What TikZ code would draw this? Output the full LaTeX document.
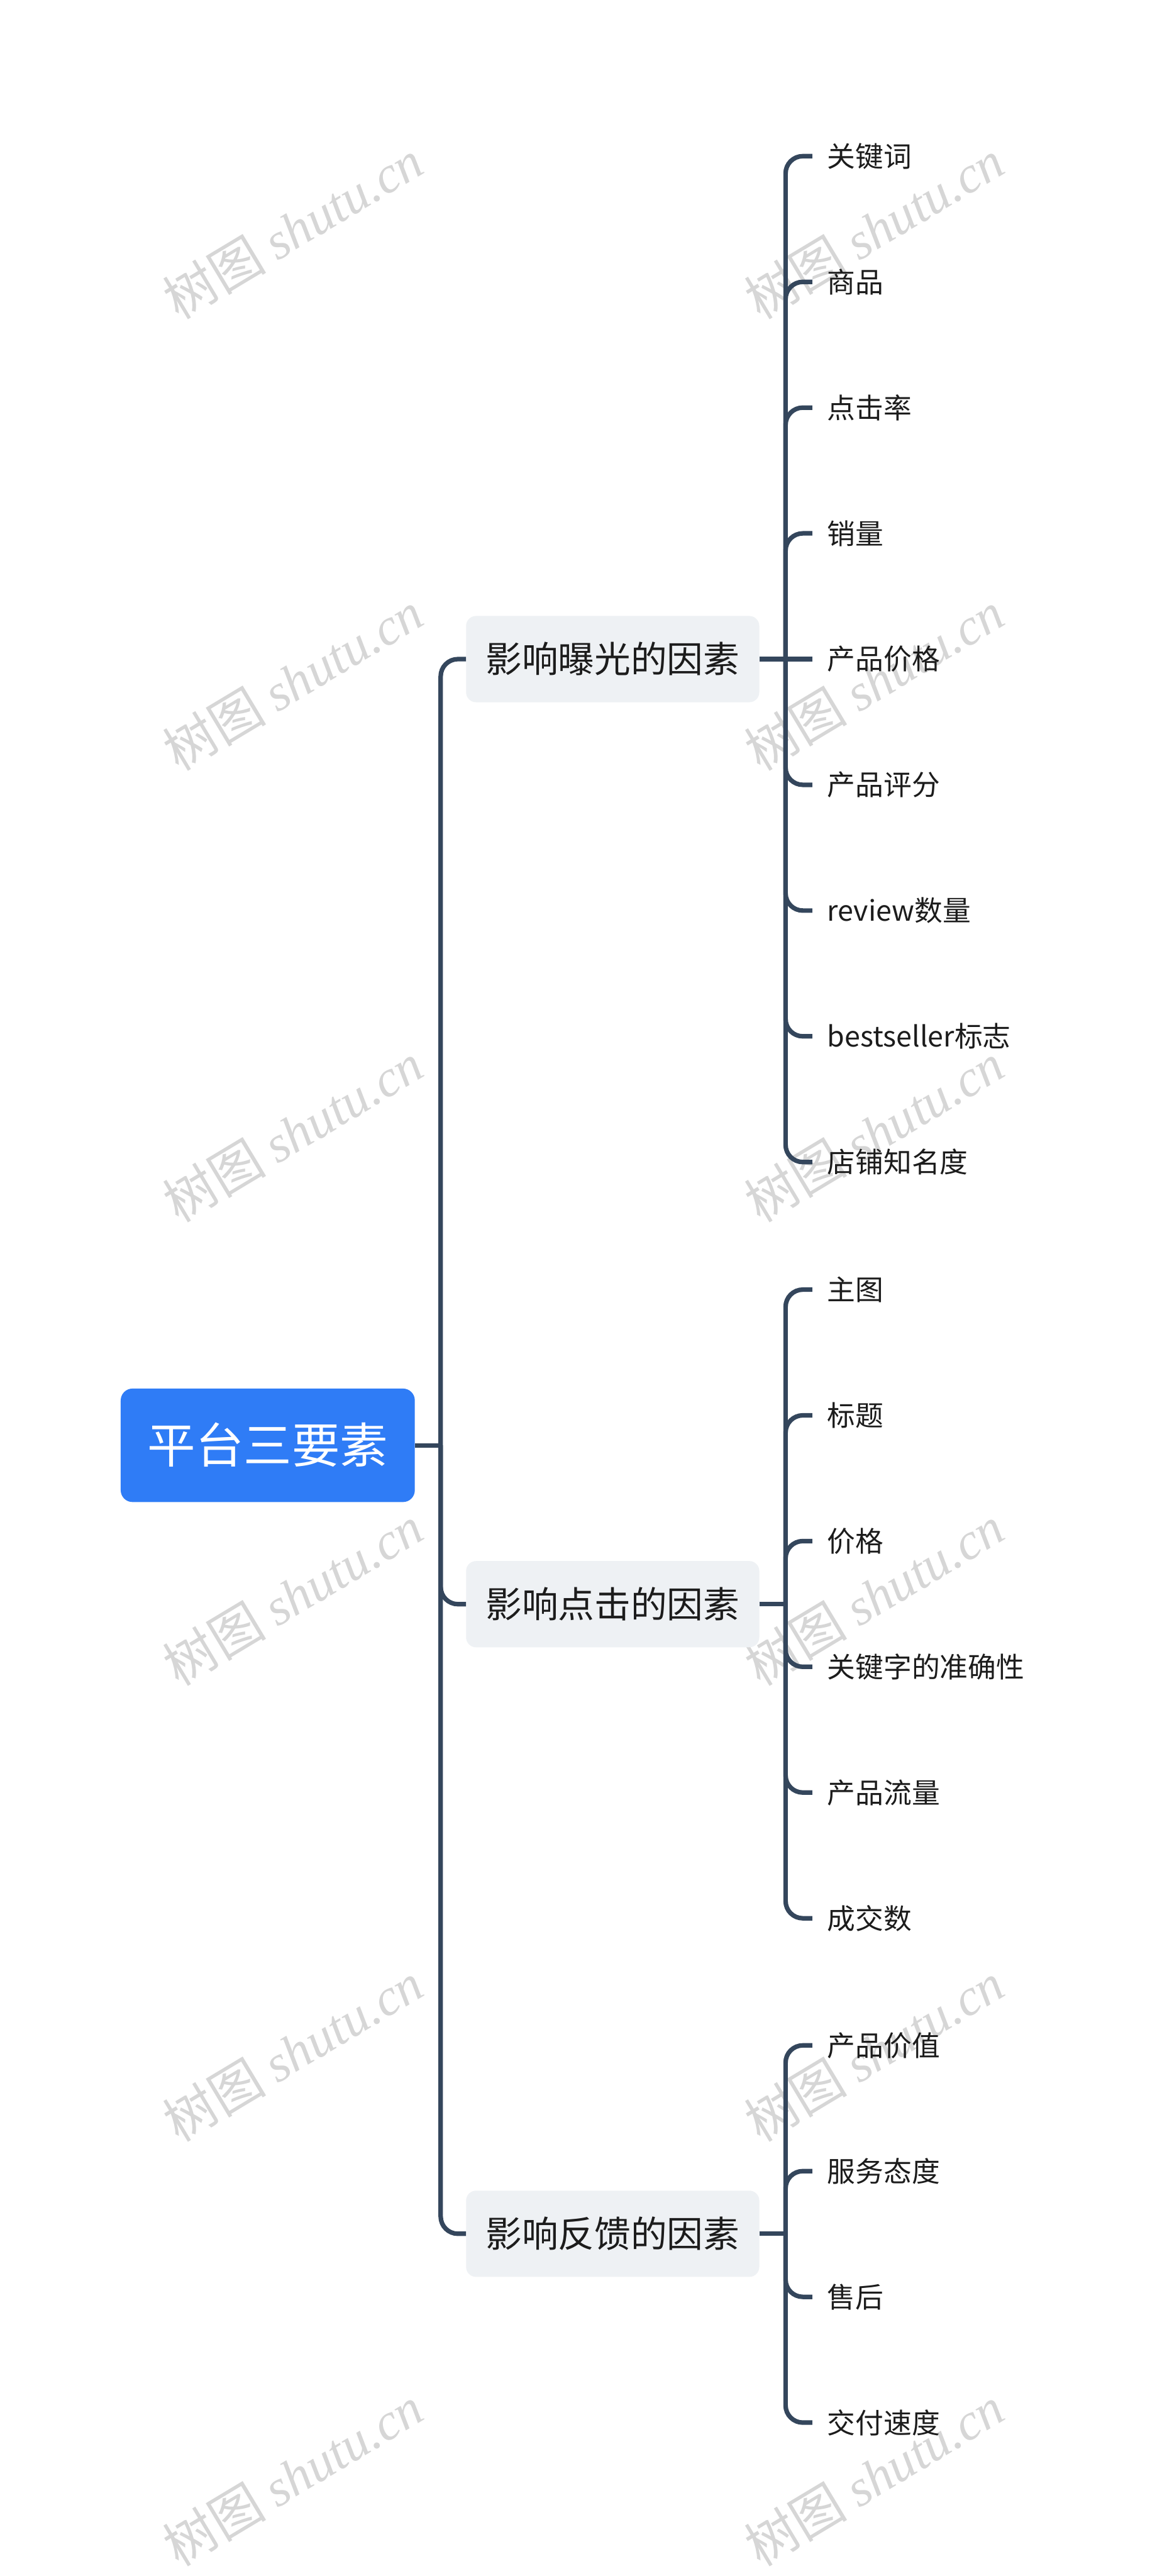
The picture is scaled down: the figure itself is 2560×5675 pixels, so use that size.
\documentclass[tikz,border=0pt]{standalone}
\usepackage{fontspec}
\setmainfont{Noto Sans CJK SC}
\newfontfamily\wmserif{Liberation Serif}
\definecolor{linec}{HTML}{34465C}
\definecolor{rootblue}{HTML}{2F7CF6}
\definecolor{branchgray}{HTML}{EEF1F4}
\definecolor{txt}{HTML}{1C1C1C}
\definecolor{wmgray}{HTML}{D6D6D6}
\begin{document}
\begin{tikzpicture}[x=1pt,y=-1pt,
  conn/.style={draw=linec, line width=10pt, rounded corners=38pt},
  rootbox/.style={fill=rootblue, rounded corners=26pt, minimum width=648pt, minimum height=250pt,
    text=white, font=\fontsize{106}{120}\selectfont, inner sep=0pt, text height=93pt, text depth=13pt},
  branchbox/.style={fill=branchgray, rounded corners=22pt, minimum width=646pt, minimum height=190pt,
    text=txt, font=\fontsize{80}{96}\selectfont, inner sep=0pt, text height=70pt, text depth=10pt},
  leaf/.style={anchor=west, inner xsep=33pt, inner ysep=0pt, text=txt,
    font=\fontsize{62}{74}\selectfont, text height=54.5pt, text depth=7.5pt},
  wm/.style={rotate=31, text=wmgray, inner sep=0pt, font=\fontsize{114}{130}\selectfont}]
\useasboundingbox[fill=white] (0,0) rectangle (2560,5675);

% watermarks
\foreach \y [count=\i] in {505,1500,2495,3515,4520,5455} {
  \node[wm] (wmL\i) at (645,\y) {树图 {\wmserif\itshape shutu.cn}};
  \node[wm] (wmR\i) at (1926,\y) {树图 {\wmserif\itshape shutu.cn}};
}

% root and branches
\node[rootbox] (root) at (590,3184) {平台三要素};
\node[branchbox] (b1) at (1350,1452) {影响曝光的因素};
\node[branchbox] (b2) at (1350,3534) {影响点击的因素};
\node[branchbox] (b3) at (1350,4921) {影响反馈的因素};

\coordinate (rj) at (971,3184);
\draw[conn] (root.east) -- (rj);
\draw[conn] (rj) |- (b1.west);
\draw[conn] (rj) |- (b2.west);
\draw[conn] (rj) |- (b3.west);

% branch 1 leaves
\coordinate (j1) at (1731,1452);
\draw[conn] (b1.east) -- (j1);
\foreach \t/\y [count=\i] in {关键词/344, 商品/621, 点击率/898, 销量/1175, 产品价格/1452, 产品评分/1729, review数量/2006, bestseller标志/2283, 店铺知名度/2560} {
  \node[leaf] (la\i) at (1790,\y) {\t};
}
\foreach \i in {1,2,3,4,6,7,8,9} { \draw[conn] (j1) |- (la\i.west); }
\draw[conn] (j1) -- (la5.west);

% branch 2 leaves
\coordinate (j2) at (1731,3534);
\draw[conn] (b2.east) -- (j2);
\foreach \t/\y [count=\i] in {主图/2841, 标题/3118, 价格/3395, 关键字的准确性/3672, 产品流量/3949, 成交数/4226} {
  \node[leaf] (lb\i) at (1790,\y) {\t};
  \draw[conn] (j2) |- (lb\i.west);
}

% branch 3 leaves
\coordinate (j3) at (1731,4921);
\draw[conn] (b3.east) -- (j3);
\foreach \t/\y [count=\i] in {产品价值/4506, 服务态度/4783, 售后/5060, 交付速度/5337} {
  \node[leaf] (lc\i) at (1790,\y) {\t};
  \draw[conn] (j3) |- (lc\i.west);
}
\end{tikzpicture}
\end{document}
